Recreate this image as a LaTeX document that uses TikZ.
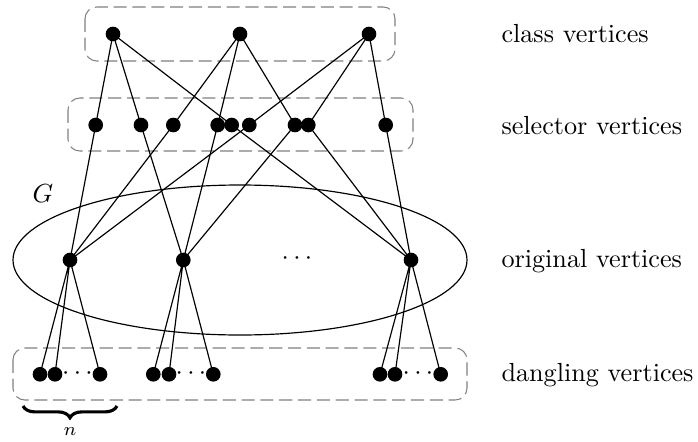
\documentclass[tikz,border=0pt]{standalone}
\usetikzlibrary{decorations.pathreplacing}
\begin{document}
\begin{tikzpicture}[x=0.3824pt,y=-0.3824pt,
  vtx/.style={circle,fill=black,inner sep=0pt,minimum size=5.6pt},
  grp/.style={draw=gray,dash pattern=on 5pt off 2.2pt,rounded corners=4.5pt},
  lbl/.style={anchor=base west,inner sep=0pt},
  edge/.style={line width=0.45pt}]
\useasboundingbox (0,0) rectangle (698,441);
% groups
\draw[grp] (85,7) rectangle (395,61);
\draw[grp] (68,98) rectangle (413,151);
\draw[grp] (13,348) rectangle (467,400);
\draw[line width=0.45pt] (240,260) ellipse [x radius=227, y radius=75];
% class vertices
\node[vtx] (c1) at (113,34) {};
\node[vtx] (c2) at (240,34) {};
\node[vtx] (c3) at (369,34) {};
% selector vertices
\node[vtx] (s1) at (95.7,125) {};
\node[vtx] (s2) at (141,125) {};
\node[vtx] (s3) at (173.3,125) {};
\node[vtx] (s4) at (217.7,125) {};
\node[vtx] (s5) at (231.7,125) {};
\node[vtx] (s6) at (249.3,125) {};
\node[vtx] (s7) at (295,125) {};
\node[vtx] (s8) at (308.3,125) {};
\node[vtx] (s9) at (385.7,125) {};
% original vertices
\node[vtx] (v1) at (70,260) {};
\node[vtx] (v2) at (183.3,260) {};
\node[vtx] (v3) at (411,260) {};
\node (vd) at (297,259) {$\cdots$};
% dangling vertices
\node[vtx] (d11) at (40,374.3) {};
\node[vtx] (d12) at (55,374.3) {};
\node[vtx] (d13) at (100,374.3) {};
\node (dd1) at (77.5,373.5) {$\cdots$};
\node[vtx] (d21) at (153.3,374.3) {};
\node[vtx] (d22) at (169,374.3) {};
\node[vtx] (d23) at (213.3,374.3) {};
\node (dd2) at (191,373.5) {$\cdots$};
\node[vtx] (d31) at (380,374.3) {};
\node[vtx] (d32) at (395,374.3) {};
\node[vtx] (d33) at (440.7,374.3) {};
\node (dd3) at (418,373.5) {$\cdots$};
% class-selector edges
\draw[edge] (c1.center) -- (s1.center) (c1.center) -- (s2.center) (c1.center) -- (s5.center);
\draw[edge] (c2.center) -- (s3.center) (c2.center) -- (s4.center) (c2.center) -- (s7.center);
\draw[edge] (c3.center) -- (s6.center) (c3.center) -- (s8.center) (c3.center) -- (s9.center);
% selector-original edges
\draw[edge] (s1.center) -- (v1.center) (s3.center) -- (v1.center) (s6.center) -- (v1.center);
\draw[edge] (s2.center) -- (v2.center) (s4.center) -- (v2.center) (s7.center) -- (v2.center);
\draw[edge] (s5.center) -- (v3.center) (s8.center) -- (v3.center) (s9.center) -- (v3.center);
% original-dangling edges
\draw[edge] (v1.center) -- (d11.center) (v1.center) -- (d12.center) (v1.center) -- (d13.center);
\draw[edge] (v2.center) -- (d21.center) (v2.center) -- (d22.center) (v2.center) -- (d23.center);
\draw[edge] (v3.center) -- (d31.center) (v3.center) -- (d32.center) (v3.center) -- (d33.center);
% brace
\coordinate (bl) at (23,406);
\coordinate (br) at (117,406);
\draw[line width=1.2pt,decorate,decoration={brace,mirror,amplitude=4.5pt}] (bl) -- (br);
\node[inner sep=0pt] (n) at (70,432) {$\scriptstyle n$};
% labels
\node[lbl] (G) at (32,202) {$G$};
\node[lbl] (lc) at (501,42.7) {class vertices};
\node[lbl] (ls) at (501,134) {selector vertices};
\node[lbl] (lo) at (501,267.7) {original vertices};
\node[lbl] (ld) at (501,381.7) {dangling vertices};
\end{tikzpicture}
\end{document}
